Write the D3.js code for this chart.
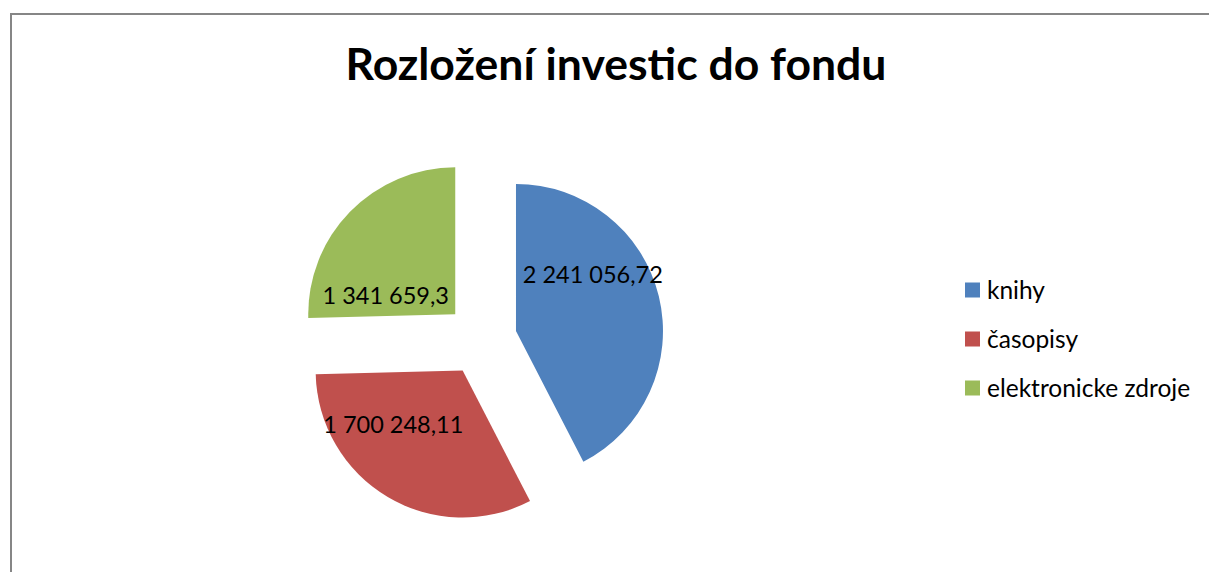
<!DOCTYPE html>
<html>
<head>
<meta charset="utf-8">
<script src="https://cdn.jsdelivr.net/npm/d3@7"></script>
<style>
  body { margin: 0; background: #fff; }
  svg { display: block; }
  text { font-family: Lato, "Open Sans", sans-serif; fill: #000; }
</style>
</head>
<body>
<div id="chart"></div>
<script>
// data
var categories = ["knihy", "časopisy", "elektronicke zdroje"];
var values = [2241056.72, 1700248.11, 1341659.3];
var valueLabels = ["2 241 056,72", "1 700 248,11", "1 341 659,3"];
var colors = ["#4F81BD", "#C0504D", "#9BBB59"];

var width = 1209, height = 572;
var cx = 481, cy = 339.5, radius = 147, explode = 36;

// where each value label sits, relative to its slice tip (deg clockwise from top, px)
var labelPolar = [[54, 95], [232, 88], [285, 72]];

var svg = d3.select("#chart").append("svg")
    .attr("width", width)
    .attr("height", height);

// chart area border (runs off the right and bottom edges)
svg.append("rect")
    .attr("x", 11).attr("y", 14)
    .attr("width", 1300).attr("height", 700)
    .attr("fill", "none")
    .attr("stroke", "#868686")
    .attr("stroke-width", 2);

svg.append("text")
    .attr("x", 616).attr("y", 80)
    .attr("text-anchor", "middle")
    .style("font-weight", "bold")
    .style("font-size", "44.5px")
    .text("Rozložení investic do fondu");

var pie = d3.pie().sort(null).value(function (d) { return d; });
var arcs = pie(values);
var arc = d3.arc().innerRadius(0).outerRadius(radius);

var slices = svg.append("g")
    .attr("transform", "translate(" + cx + "," + cy + ")")
    .selectAll("g")
    .data(arcs)
    .enter().append("g")
    .attr("transform", function (d) {
      var mid = (d.startAngle + d.endAngle) / 2;
      return "translate(" + (explode * Math.sin(mid)) + "," + (-explode * Math.cos(mid)) + ")";
    });

slices.append("path")
    .attr("d", arc)
    .attr("fill", function (d, i) { return colors[i]; });

slices.append("text")
    .attr("x", function (d, i) { return labelPolar[i][1] * Math.sin(labelPolar[i][0] * Math.PI / 180); })
    .attr("y", function (d, i) { return -labelPolar[i][1] * Math.cos(labelPolar[i][0] * Math.PI / 180); })
    .attr("dy", "0.35em")
    .attr("text-anchor", "middle")
    .style("font-size", "23.5px")
    .text(function (d, i) { return valueLabels[i]; });

// legend
var legend = svg.append("g")
    .selectAll("g")
    .data(categories)
    .enter().append("g")
    .attr("transform", function (d, i) { return "translate(965," + (290 + i * 49) + ")"; });

legend.append("rect")
    .attr("x", 0).attr("y", -7.5)
    .attr("width", 15).attr("height", 15)
    .attr("fill", function (d, i) { return colors[i]; });

legend.append("text")
    .attr("x", 22).attr("y", 0)
    .attr("dy", "0.35em")
    .style("font-size", "24.5px")
    .text(function (d) { return d; });
</script>
</body>
</html>
